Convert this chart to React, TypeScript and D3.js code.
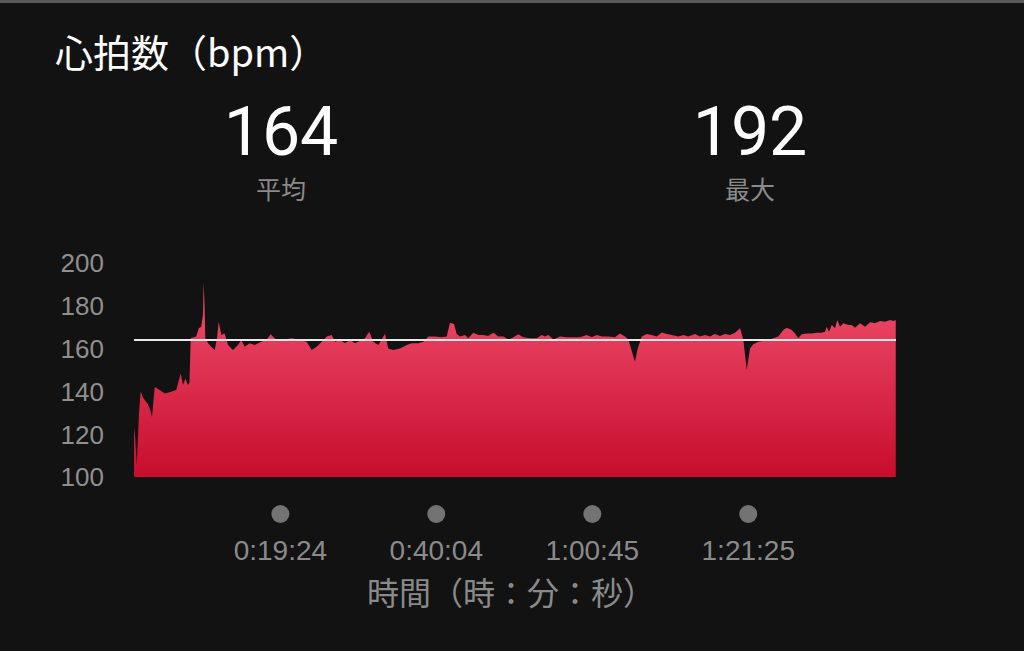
import React from "react";
import * as d3 from "d3";

// elapsed time (s) and heart rate (bpm)
const times = [0,10,22,40,53,72,111,131,143,165,204,244,284,336,371,390,408,429,441,451,495,515,535,549,554,561,567,589,615,642,660,674,694,721,748,787,827,853,880,920,960,1012,1052,1087,1132,1185,
1201,1254,1320,1373,1413,1453,1493,1533,1572,1599,1638,1678,1718,1758,1797,1837,1871,1903,1943,1996,2022,2062,2115,2169,2209,2261,2301,2341,2394,2447,
2487,2513,2545,2566,2593,2632,2659,2698,2738,2778,2818,2858,2897,2937,2977,3004,3056,3096,3149,3203,3242,3269,3295,3335,3388,3441,3494,3547,3600,3640,3680,
3720,3772,3825,3865,3905,3931,3958,3984,4006,4038,4077,4117,4157,4197,4237,4276,4329,4369,4408,4462,4501,4541,4581,4621,4660,4700,4740,4780,4820,4846,4873,4899,
4925,4965,5005,5044,5084,5124,5164,5191,5231,5257,5283,5310,5350,5390,5430,5469,5496,5509,5527,5549,5575,5593,5615,5641,5681,5708,5734,5774,5814,5854,5893,5933,5973,6013,6039,6058];
const bpm = [123,118,106,130,140,137,134,131,128,142,140.7,139,139.6,140.7,148.4,143,146,143,144,164.8,165.6,169.5,170.2,176,191,180,165,162.5,160.9,159.3,165,172.6,166.4,167,161.7,159.3,161.7,164,160.9,162.5,161.7,163.2,164,166.7,164,164,
164.3,164.8,164,163.2,159.3,160.9,163.2,165.6,166.4,163.2,164,162.5,164,162.5,163.7,164.8,167.9,163.2,161.7,166.8,160.1,159.3,160.1,161.7,162.5,162.5,163.2,165.6,165.6,165.3,
165.6,172.1,171.5,166.8,165.6,166.4,164.8,167.4,166.4,166.4,165.9,167.4,165.6,165.6,164.3,164.8,166.7,165.3,164.8,164.8,166.4,165.6,166.4,164.3,165.6,165.3,165.3,165.3,166.4,165.3,166.4,
165.6,165.6,165.3,167.1,165.6,164.3,159,153.9,160,165.6,166.8,166.4,165.6,167.5,166.8,166.4,165.6,166.4,165.6,166.8,165.6,166.4,165.6,166.8,165.9,166.8,166.4,167.4,169.5,164,150,160,
162,163.2,163.6,164,164.8,165.6,168.7,169.8,168.7,167.1,164.8,166.7,167.1,167.1,167.4,167.4,167.9,170.2,167.9,171,169.5,173.4,170.2,171.8,171,171,169.8,171.8,170.2,172.3,171.8,172.9,172.6,173.4,172.9,173.4];

const totalSeconds = 6060;
const averageBpm = 164;
const maxBpm = 192;
const yTicks = [100, 120, 140, 160, 180, 200];
const xTicks = [1164, 2404, 3645, 4885];

const title = "心拍数（bpm）";
const avgLabel = "平均";
const maxLabel = "最大";
const xAxisTitle = "時間（時：分：秒）";

const fmt = (s: number) => {
  const h = Math.floor(s / 3600);
  const m = Math.floor((s % 3600) / 60);
  const sec = Math.round(s % 60);
  return `${h}:${String(m).padStart(2, "0")}:${String(sec).padStart(2, "0")}`;
};

export default function App() {
  const W = 1024, H = 651;
  const x = d3.scaleLinear().domain([0, totalSeconds]).range([134, 896]);
  const y = d3.scaleLinear().domain([100, 200]).range([477, 263]);
  const data = times.map((t, i) => ({ t, v: bpm[i] }));
  const area = d3.area<{ t: number; v: number }>()
    .x(d => x(d.t))
    .y0(y(100))
    .y1(d => y(d.v))
    .curve(d3.curveLinear);

  const cjk = "'Noto Sans CJK JP', 'Noto Sans', sans-serif";
  const num = "Roboto, 'Noto Sans', sans-serif";
  const axisFont = "'Liberation Sans', Arial, sans-serif";

  return (
    <svg width={W} height={H} style={{ position: "absolute", left: 0, top: 0, display: "block" }}>
      <defs>
        <linearGradient id="hrFill" x1="0" y1={y(192)} x2="0" y2={y(100)} gradientUnits="userSpaceOnUse">
          <stop offset="0%" stopColor="#f2506f" />
          <stop offset="100%" stopColor="#c70d2d" />
        </linearGradient>
      </defs>
      <rect x={0} y={0} width={W} height={H} fill="#121212" />
      <line x1={0} x2={W} y1={1.5} y2={1.5} stroke="#5a5a5a" strokeWidth={3} />

      <text x={55} y={67} fill="#ffffff" fontSize={38} fontFamily={cjk}>{title}</text>

      <text x={281} y={155} fill="#ffffff" fontSize={68} fontFamily={num} textAnchor="middle">{averageBpm}</text>
      <text x={281} y={199} fill="#8a8a8a" fontSize={25} fontFamily={cjk} textAnchor="middle">{avgLabel}</text>
      <text x={750} y={155} fill="#ffffff" fontSize={68} fontFamily={num} textAnchor="middle">{maxBpm}</text>
      <text x={750} y={199} fill="#8a8a8a" fontSize={25} fontFamily={cjk} textAnchor="middle">{maxLabel}</text>

      {yTicks.map(t => (
        <text key={t} x={104} y={y(t)} dy="0.36em" fill="#8f8f8f" fontSize={26} fontFamily={axisFont} textAnchor="end">{t}</text>
      ))}

      <path d={area(data) || ""} fill="url(#hrFill)" />
      <line x1={x(0)} x2={x(totalSeconds)} y1={y(averageBpm)} y2={y(averageBpm)} stroke="#e8e8e8" strokeWidth={2} />

      {xTicks.map(t => (
        <g key={t}>
          <circle cx={x(t)} cy={514} r={9} fill="#737373" />
          <text x={x(t)} y={550} dy="0.36em" fill="#8a8a8a" fontSize={28} fontFamily={axisFont} textAnchor="middle">{fmt(t)}</text>
        </g>
      ))}

      <text x={511} y={593} dy="0.36em" fill="#8a8a8a" fontSize={32} fontFamily={cjk} textAnchor="middle">{xAxisTitle}</text>
    </svg>
  );
}
